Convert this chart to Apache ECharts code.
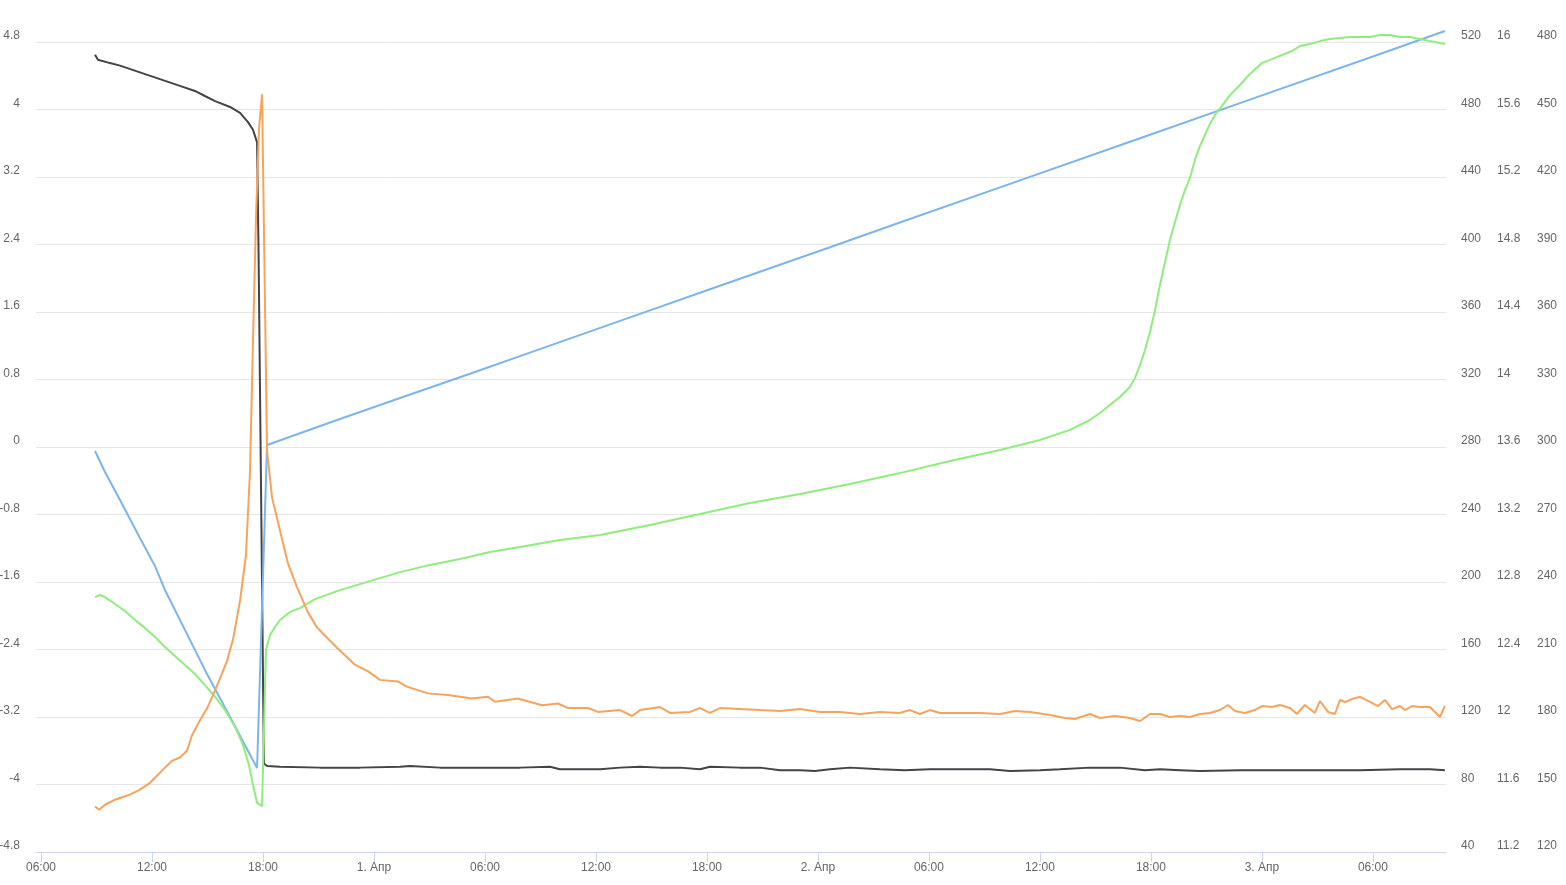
<!DOCTYPE html>
<html>
<head>
<meta charset="utf-8">
<script src="https://cdn.jsdelivr.net/npm/echarts@6/dist/echarts.min.js"></script>
<style>
html,body{margin:0;padding:0;background:#fff;}
#chart{width:1566px;height:885px;}
</style>
</head>
<body>
<div id="chart"></div>
<script>
// x values: hours since 31 March 00:00
const xTickHours = [6,12,18,24,30,36,42,48,54,60,66,72,78];
const monthLabel = 'Апр';

const blackHours = [8.92,9.08,9.73,10.27,11.35,12.43,13.51,14.32,14.86,15.41,16.22,16.76,17.19,17.46,17.68,17.76,18.05,18.22,18.92,21.08,23.24,25.41,25.95,27.57,29.73,31.89,33.51,34.05,36.22,37.30,38.38,39.46,40.54,41.62,42.16,43.78,44.86,45.95,47.03,47.84,48.65,49.73,51.35,52.70,54.05,55.14,57.30,58.38,60.00,61.08,62.70,64.32,65.68,66.49,67.57,68.65,70.81,72.97,75.14,77.30,79.46,81.08,81.89];
const blackValues = [4.65,4.59,4.55,4.52,4.44,4.36,4.28,4.22,4.16,4.10,4.03,3.96,3.85,3.76,3.61,2.33,-3.75,-3.78,-3.79,-3.80,-3.80,-3.79,-3.78,-3.80,-3.80,-3.80,-3.79,-3.82,-3.82,-3.80,-3.79,-3.80,-3.80,-3.82,-3.79,-3.80,-3.80,-3.83,-3.83,-3.84,-3.82,-3.80,-3.82,-3.83,-3.82,-3.82,-3.82,-3.84,-3.83,-3.82,-3.80,-3.80,-3.83,-3.82,-3.83,-3.84,-3.83,-3.83,-3.83,-3.83,-3.82,-3.82,-3.83];

const blueHours = [8.92,9.46,10.27,11.35,12.16,12.70,13.78,14.86,16.22,17.68,18.22,22.16,25.41,29.19,32.16,38.65,42.16,48.65,52.16,58.92,65.14,71.62,78.38,81.89];
const blueValues = [277.6,265.2,248.6,226.1,209.5,195.3,171.6,147.9,120.0,89.8,281.2,296.6,309.0,323.4,334.9,359.9,373.5,398.4,412.0,438.0,461.9,486.9,512.9,526.5];

const greenHours = [8.92,9.19,9.46,10.00,10.54,11.08,11.62,12.16,12.70,13.24,13.78,14.32,14.86,15.41,15.95,16.49,16.92,17.24,17.46,17.68,17.95,18.16,18.38,18.65,18.92,19.46,20.00,20.81,22.16,23.78,25.41,27.03,28.65,30.27,31.89,34.05,36.22,38.92,41.62,44.32,47.03,49.73,52.43,55.14,57.84,60.00,61.62,62.70,63.24,63.78,64.32,64.86,65.14,65.41,65.68,65.95,66.22,66.49,66.76,67.03,67.30,67.57,67.84,68.11,68.38,68.65,68.92,69.19,69.46,69.84,70.27,70.81,71.35,72.00,72.54,73.08,73.62,74.05,74.59,75.14,75.68,76.22,76.76,77.84,78.38,78.92,79.46,80.00,80.54,81.08,81.62,81.89];
const greenValues = [233.3,234.2,233.3,230.2,227.1,223.1,219.6,215.6,211.1,207.1,203.1,199.1,194.2,188.9,183.1,175.6,167.6,158.7,149.8,141.8,140.4,209.8,216.4,220.0,223.1,226.7,228.4,232.4,236.4,240.4,244.4,247.6,250.2,253.3,255.6,258.7,260.9,265.3,270.2,275.1,279.1,283.6,288.4,293.8,298.7,303.1,307.6,312.0,315.1,318.7,322.2,326.7,330.7,336.4,343.1,351.1,360.9,372.0,382.2,392.0,400.0,407.6,414.2,419.6,427.6,433.8,438.7,443.6,447.6,451.6,456.4,460.9,465.8,470.7,472.4,474.2,476.0,478.2,479.1,480.4,481.3,481.8,482.2,482.2,483.1,483.1,482.2,482.2,481.3,480.4,479.6,479.1];

const orangeHours = [8.92,9.14,9.46,10.00,10.54,10.81,11.35,11.89,12.16,12.70,13.08,13.51,13.89,14.16,14.59,14.97,15.30,15.68,16.05,16.38,16.76,17.08,17.30,17.46,17.62,17.78,17.95,18.22,18.49,19.35,19.84,20.43,20.92,22.00,22.97,23.68,24.32,25.30,25.78,26.92,28.00,29.30,30.16,30.54,31.78,33.08,33.95,34.49,35.57,36.11,37.30,37.95,38.38,39.46,40.00,41.08,41.62,42.16,42.70,43.78,44.86,45.95,47.03,48.11,49.19,50.27,51.35,52.43,52.97,53.51,54.05,54.59,55.68,56.76,57.84,58.65,59.46,60.54,61.35,61.89,62.70,63.24,64.05,64.86,65.41,65.95,66.49,67.03,67.57,68.11,68.65,69.19,69.73,70.16,70.54,71.08,71.62,72.00,72.54,72.97,73.51,73.89,74.32,74.86,75.14,75.57,75.95,76.22,76.49,77.03,77.30,77.84,78.27,78.65,79.03,79.46,79.73,80.11,80.54,81.08,81.62,81.89];
const orangeValues = [11.47,11.45,11.48,11.51,11.53,11.54,11.57,11.61,11.64,11.70,11.74,11.76,11.80,11.89,11.98,12.05,12.13,12.23,12.33,12.46,12.69,12.96,13.46,14.23,14.95,15.48,15.69,13.58,13.30,12.91,12.77,12.62,12.53,12.41,12.31,12.27,12.22,12.21,12.18,12.14,12.13,12.11,12.12,12.09,12.11,12.07,12.08,12.053,12.053,12.030,12.041,12.006,12.041,12.059,12.024,12.030,12.053,12.024,12.053,12.047,12.041,12.036,12.047,12.030,12.030,12.018,12.030,12.024,12.041,12.018,12.041,12.024,12.024,12.024,12.018,12.036,12.030,12.012,11.994,11.988,12.018,11.994,12.006,11.994,11.976,12.018,12.018,12.000,12.006,12.000,12.018,12.024,12.041,12.071,12.036,12.024,12.041,12.065,12.059,12.071,12.053,12.018,12.071,12.024,12.095,12.030,12.018,12.101,12.089,12.113,12.119,12.089,12.065,12.101,12.047,12.065,12.041,12.065,12.059,12.059,12.000,12.065];

const FONT = '"Liberation Sans", Arial, sans-serif';
const labelStyle = {color:'#666666', fontSize:12, fontFamily:FONT};

function pairs(hs, vs){ return hs.map((h,i)=>[h, vs[i]]); }

const chart = echarts.init(document.getElementById('chart'), null, {renderer:'canvas'});
chart.setOption({
  animation:false,
  backgroundColor:'#ffffff',
  grid:{left:36, right:120, top:42, bottom:33, containLabel:false, outerBoundsMode:'none'},
  xAxis:{
    type:'value', min:5.73, max:81.95,
    splitLine:{show:false},
    axisLine:{show:true, onZero:false, lineStyle:{color:'#ccd6eb', width:1}},
    axisTick:{show:true, inside:false, length:10, lineStyle:{color:'#ccd6eb'}, customValues:xTickHours},
    axisLabel:Object.assign({}, labelStyle, {margin:10, customValues:xTickHours,
      formatter:function(v){
        const h = Math.round(v);
        if (h % 24 === 0) return (h/24) + '. ' + monthLabel;
        return String(h % 24).padStart(2,'0') + ':00';
      }})
  },
  yAxis:[
    {type:'value', position:'left', min:-4.8, max:4.8, interval:0.8,
     axisLine:{show:false}, axisTick:{show:false},
     splitLine:{show:true, lineStyle:{color:'#e6e6e6', width:1}},
     axisLabel:Object.assign({}, labelStyle, {margin:16, verticalAlign:'bottom'})},
    {type:'value', position:'right', offset:0, min:40, max:520, interval:40,
     axisLine:{show:false}, axisTick:{show:false}, splitLine:{show:false},
     axisLabel:Object.assign({}, labelStyle, {margin:15, verticalAlign:'bottom'})},
    {type:'value', position:'right', offset:36, min:11.2, max:16, interval:0.4,
     axisLine:{show:false}, axisTick:{show:false}, splitLine:{show:false},
     axisLabel:Object.assign({}, labelStyle, {margin:15, verticalAlign:'bottom'})},
    {type:'value', position:'right', offset:76, min:120, max:480, interval:30,
     axisLine:{show:false}, axisTick:{show:false}, splitLine:{show:false},
     axisLabel:Object.assign({}, labelStyle, {margin:15, verticalAlign:'bottom'})}
  ],
  series:[
    {type:'line', name:'black', yAxisIndex:0, data:pairs(blackHours, blackValues), showSymbol:false, clip:false,
     lineStyle:{color:'#434348', width:2}, itemStyle:{color:'#434348'}},
    {type:'line', name:'blue', yAxisIndex:1, data:pairs(blueHours, blueValues), showSymbol:false, clip:false,
     lineStyle:{color:'#7cb5ec', width:2}, itemStyle:{color:'#7cb5ec'}},
    {type:'line', name:'green', yAxisIndex:3, data:pairs(greenHours, greenValues), showSymbol:false, clip:false,
     lineStyle:{color:'#90ed7d', width:2}, itemStyle:{color:'#90ed7d'}},
    {type:'line', name:'orange', yAxisIndex:2, data:pairs(orangeHours, orangeValues), showSymbol:false, clip:false,
     lineStyle:{color:'#f7a35c', width:2}, itemStyle:{color:'#f7a35c'}}
  ]
});
</script>
</body>
</html>
